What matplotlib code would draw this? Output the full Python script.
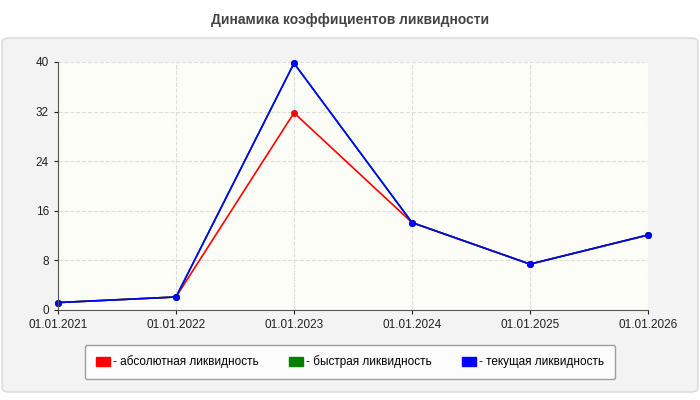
import matplotlib.pyplot as plt
from matplotlib.patches import FancyBboxPatch

dates = ['01.01.2021', '01.01.2022', '01.01.2023', '01.01.2024', '01.01.2025', '01.01.2026']
absolute = [1.2, 2.1, 31.8, 14.1, 7.4, 12.1]
quick = [1.2, 2.1, 39.8, 14.1, 7.4, 12.1]
current = [1.2, 2.1, 39.8, 14.1, 7.4, 12.1]
yticks = [0, 8, 16, 24, 32, 40]

plt.rcParams['font.family'] = ['Liberation Sans', 'DejaVu Sans']

fig = plt.figure(figsize=(7, 4), dpi=100)
fig.patch.set_facecolor('white')

# outer grey panel
panel = FancyBboxPatch((0.003, 0.02), 0.994, 0.885, boxstyle='round,pad=0,rounding_size=0.01',
                       transform=fig.transFigure, facecolor='#f3f3f3', edgecolor='#d8d8d8', lw=1,
                       zorder=-10)
fig.add_artist(panel)
fig.text(0.5, 0.95, 'Динамика коэффициентов ликвидности', ha='center', va='center',
         fontsize=10, fontweight='bold', color='#444444')

ax = fig.add_axes([58 / 700, 1 - 310 / 400, 590 / 700, 248 / 400])
ax.set_facecolor('#fdfdf8')
x = range(len(dates))
ax.plot(x, absolute, color='red', lw=1.2, marker='o', ms=4, clip_on=False)
ax.plot(x, quick, color='green', lw=1.2, marker='o', ms=4, clip_on=False)
ax.plot(x, current, color='blue', lw=1.2, marker='o', ms=4, clip_on=False)
ax.set_xlim(0, len(dates) - 1)
ax.set_ylim(0, 40)
ax.set_xticks(list(x))
ax.set_xticklabels(dates)
ax.set_yticks(yticks)
ax.tick_params(labelsize=8.5, colors='#222222', length=3)
ax.grid(True, color='#dddddd', ls='--', lw=0.8)
for s in ['top', 'right']:
    ax.spines[s].set_visible(False)
ax.spines['left'].set_color('#555555')
ax.spines['bottom'].set_color('#555555')

handles = [plt.Rectangle((0, 0), 1, 1, color=c) for c in ['red', 'green', 'blue']]
leg = fig.legend(handles, ['- абсолютная ликвидность', '- быстрая ликвидность', '- текущая ликвидность'],
                 loc='center', bbox_to_anchor=(0.5, 1 - 362 / 400), ncol=3, fontsize=8.5,
                 frameon=True, fancybox=True, edgecolor='#888888', facecolor='white',
                 handlelength=1.2, handleheight=0.8, handletextpad=0.3, columnspacing=2.5,
                 borderpad=0.9)
fig.savefig('out.png', dpi=100)
